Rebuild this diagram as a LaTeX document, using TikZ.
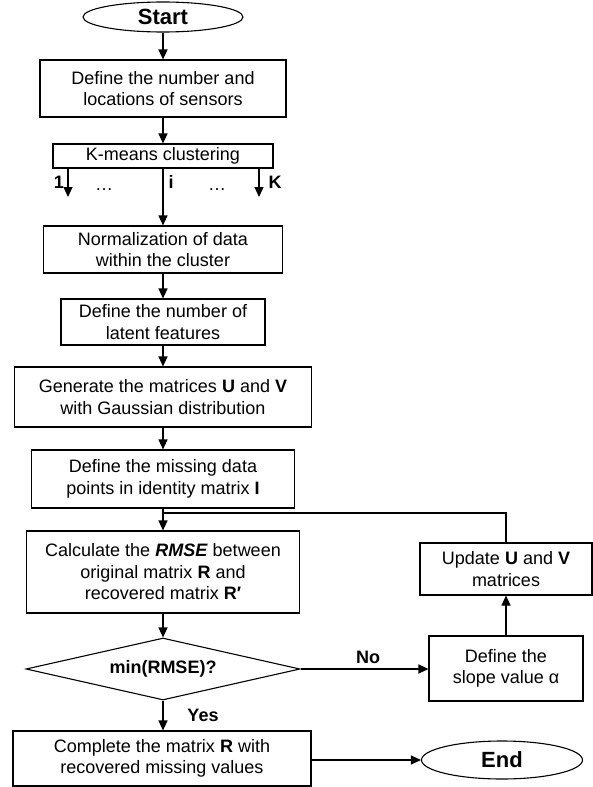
\documentclass[tikz,border=0pt]{standalone}
\usepackage{fontspec}
\setmainfont{Liberation Sans}
\usetikzlibrary{shapes.geometric, arrows.meta}

\begin{document}
\begin{tikzpicture}[x=1pt, y=-1pt, line width=1.1pt,
  every node/.style={font=\fontsize{18}{21.5}\selectfont},
  procbox/.style={draw, rectangle, align=center, inner sep=0pt},
  termnode/.style={draw, ellipse, inner sep=0pt, font=\fontsize{22}{26}\selectfont\bfseries},
  decide/.style={draw, diamond, aspect=4.4, inner sep=0pt, font=\fontsize{18}{21.5}\selectfont\bfseries},
  tag/.style={font=\fontsize{18}{21.5}\selectfont\bfseries},
  arr/.style={-{Triangle[length=10pt, width=9pt]}}]
\useasboundingbox (0,0) rectangle (593,787);

% main column
\node[termnode, minimum width=160, minimum height=30] (start) at (163,17) {Start};
\node[procbox, minimum width=246, minimum height=57] (sensors) at (163,88.5) {Define the number and\\locations of sensors};
\node[procbox, minimum width=220, minimum height=24] (kmeans) at (163,156) {K-means clustering};
\node[procbox, minimum width=239, minimum height=47] (norm) at (163,249.5) {Normalization of data\\within the cluster};
\node[procbox, minimum width=204, minimum height=46] (latent) at (163,322) {Define the number of\\latent features};
\node[procbox, minimum width=297, minimum height=60] (gen) at (163,397) {Generate the matrices \textbf{U} and \textbf{V}\\with Gaussian distribution};
\node[procbox, minimum width=263, minimum height=58] (missing) at (163,479) {Define the missing data\\points in identity matrix \textbf{I}};
\node[procbox, minimum width=273, minimum height=82] (rmse) at (163,572) {Calculate the \textbf{\textit{RMSE}} between\\original matrix \textbf{R} and\\recovered matrix \textbf{R′}};
\node[decide, minimum width=274, minimum height=62] (check) at (163,669) {min(RMSE)?};
\node[procbox, minimum width=298, minimum height=55] (complete) at (162,758.5) {Complete the matrix \textbf{R} with\\recovered missing values};

% loop column
\node[procbox, minimum width=172, minimum height=52] (update) at (506,569) {Update \textbf{U} and \textbf{V}\\matrices};
\node[procbox, minimum width=154, minimum height=65] (slope) at (506,668.5) {Define the\\slope value α};
\node[termnode, minimum width=161, minimum height=38] (end) at (502,760) {End};

% labels
\node[tag] (n1) at (59,182) {1};
\node[tag] (ni) at (171,182) {i};
\node[tag] (nK) at (275,182) {K};
\node (dots1) at (104,190) {…};
\node (dots2) at (217,190) {…};
\node[tag] (no) at (368,657) {No};
\node[tag] (yes) at (203,715) {Yes};

\coordinate (c1) at (68,197);
\coordinate (cK) at (259,197);
\coordinate (loop) at (163,513);

\draw[arr] (start) -- (sensors);
\draw[arr] (sensors) -- (kmeans);
\draw[arr] (kmeans.south -| c1) -- (c1);
\draw[arr] (kmeans.south -| cK) -- (cK);
\draw[arr] (kmeans) -- (norm);
\draw[arr] (norm) -- (latent);
\draw[arr] (latent) -- (gen);
\draw[arr] (gen) -- (missing);
\draw[arr] (missing) -- (rmse);
\draw[arr] (rmse) -- (check);
\draw[arr] (check.south) -- (complete.north -| check.south);
\draw[arr] (check.east) -- (check.east -| slope.west);
\draw[arr] (slope) -- (update);
\draw (update.north) |- (loop);
\draw[arr] (complete.east |- end.west) -- (end.west);
\end{tikzpicture}
\end{document}
